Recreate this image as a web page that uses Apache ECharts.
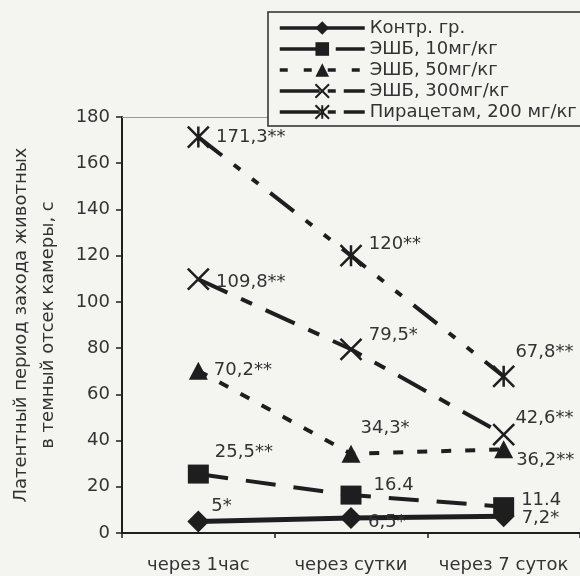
<!DOCTYPE html>
<html>
<head>
<meta charset="utf-8">
<script src="https://cdn.jsdelivr.net/npm/echarts@6/dist/echarts.min.js"></script>
<style>
  html, body { margin: 0; padding: 0; background: #f4f4f1; }
  #chart { width: 580px; height: 576px; }
</style>
</head>
<body>
<div id="chart"></div>
<script>
// ---- data ----
var categories = ['через 1час', 'через сутки', 'через 7 суток'];
var yTicks = [0, 20, 40, 60, 80, 100, 120, 140, 160, 180];

var seriesNames = ['Контр. гр.', 'ЭШБ, 10мг/кг', 'ЭШБ, 50мг/кг', 'ЭШБ, 300мг/кг', 'Пирацетам, 200 мг/кг'];

var ctrlValues = [5, 6.5, 7.2];
var eshb10Values = [25.5, 16.4, 11.4];
var eshb50Values = [70.2, 34.3, 36.2];
var eshb300Values = [109.8, 79.5, 42.6];
var piracetamValues = [171.3, 120, 67.8];

var ctrlLabels = ['5*', '6,5*', '7,2*'];
var eshb10Labels = ['25,5**', '16.4', '11.4'];
var eshb50Labels = ['70,2**', '34,3*', '36,2**'];
var eshb300Labels = ['109,8**', '79,5*', '42,6**'];
var piracetamLabels = ['171,3**', '120**', '67,8**'];

// ---- styles ----
var INK = '#1e1e1e';
var TXT = '#333333';
var FONT = 'DejaVu Sans';
var FS = 18;

var xPath = 'path://M0,0L20,20M20,0L0,20';
var starPath = 'path://M0,0L20,20M20,0L0,20M10,0L10,20';

// label offsets [dx, dy] per point (styling, kept separate from data)
var labelOffsets = [
  [[-4, -15], [0, 4], [1, 2]],
  [[0, -22], [6, -10], [1, -6]],
  [[0, 0], [-6, -25], [-3, 11]],
  [[0, 3], [0, -14], [-6, -16]],
  [[0, 0], [0, -11], [-6, -24]]
];

function buildData(values, labels, offs) {
  return values.map(function (v, i) {
    return { value: v, label: { formatter: labels[i], offset: offs[i] } };
  });
}

var defs = [
  { values: ctrlValues, labels: ctrlLabels, symbol: 'diamond', size: [22, 22], dash: 'solid', width: 5, stroke: 0 },
  { values: eshb10Values, labels: eshb10Labels, symbol: 'rect', size: [21, 19], dash: [30, 18], width: 4, stroke: 0 },
  { values: eshb50Values, labels: eshb50Labels, symbol: 'triangle', size: [19, 18], dash: [10, 14], width: 4, stroke: 0 },
  { values: eshb300Values, labels: eshb300Labels, symbol: xPath, size: [21, 21], dash: [32, 15, 12, 15], width: 4, stroke: 2.5 },
  { values: piracetamValues, labels: piracetamLabels, symbol: starPath, size: [21, 21], dash: [30, 15, 8, 15, 8, 15], width: 4, stroke: 2.5 }
];

var legendDash = ['solid', [46, 10], [8, 16], [40, 8, 8, 8], [40, 8, 8, 8]];

var series = defs.map(function (d, k) {
  return {
    name: seriesNames[k],
    type: 'line',
    data: buildData(d.values, d.labels, labelOffsets[k]),
    symbol: d.symbol,
    symbolSize: d.size,
    showAllSymbol: true,
    z: 10 - k,
    lineStyle: { color: INK, width: d.width, type: d.dash, cap: 'butt' },
    itemStyle: { color: INK, borderColor: INK, borderWidth: d.stroke },
    label: {
      show: true,
      position: 'right',
      distance: 6,
      color: TXT,
      fontFamily: FONT,
      fontSize: FS
    },
    emphasis: { disabled: true },
    animation: false
  };
});

var legendData = seriesNames.map(function (n, k) {
  return { name: n, lineStyle: { width: 3.5, type: legendDash[k], color: INK } };
});

var chart = echarts.init(document.getElementById('chart'), null, { renderer: 'canvas' });
chart.setOption({
  backgroundColor: '#f4f4f1',
  animation: false,
  grid: { left: 118, top: 117, bottom: 43, right: -3, containLabel: false },
  legend: {
    orient: 'vertical',
    left: 268,
    top: 12,
    data: legendData,
    itemWidth: 85,
    itemHeight: 17,
    itemGap: 3,
    padding: [7, 20, 5, 10],
    backgroundColor: '#f4f4f1',
    borderColor: '#2a2a2a',
    borderWidth: 1.5,
    borderRadius: 0,
    lineStyle: { width: 3.5 },
    textStyle: { color: TXT, fontFamily: FONT, fontSize: FS }
  },
  xAxis: [
    {
      type: 'category',
      data: categories,
      boundaryGap: true,
      axisLine: { lineStyle: { color: INK, width: 2 } },
      axisTick: { show: true, inside: false, length: 5, lineStyle: { color: INK, width: 1.5 } },
      axisLabel: { color: TXT, fontFamily: FONT, fontSize: FS, margin: 23, interval: 0 },
      splitLine: { show: false }
    },
    {
      type: 'category',
      data: categories,
      position: 'top',
      axisLine: { lineStyle: { color: '#9a9a9a', width: 1 } },
      axisTick: { show: false },
      axisLabel: { show: false },
      splitLine: { show: false }
    }
  ],
  yAxis: {
    type: 'value',
    min: yTicks[0],
    max: yTicks[yTicks.length - 1],
    interval: yTicks[1] - yTicks[0],
    name: 'Латентный период захода животных\nв темный отсек камеры, с',
    nameLocation: 'middle',
    nameRotate: 90,
    nameGap: 60,
    nameTextStyle: { color: TXT, fontFamily: FONT, fontSize: FS, lineHeight: 27 },
    axisLine: { show: true, lineStyle: { color: INK, width: 2 } },
    axisTick: { show: true, inside: false, length: 6, lineStyle: { color: INK, width: 1.5 } },
    axisLabel: { color: TXT, fontFamily: FONT, fontSize: FS, margin: 12 },
    splitLine: { show: false }
  },
  series: series
});
</script>
</body>
</html>
